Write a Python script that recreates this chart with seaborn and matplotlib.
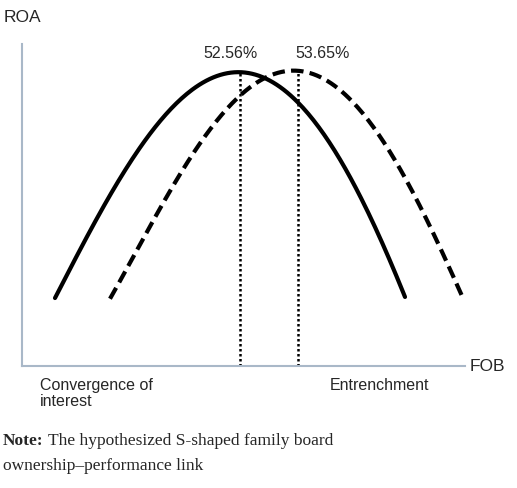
import numpy as np
import pandas as pd
import matplotlib
matplotlib.use("Agg")
import matplotlib.pyplot as plt
import seaborn as sns

# points (x position, height above the FOB axis)
solid_x = [33, 58, 88, 118, 148, 178, 218, 248, 278, 308, 338, 363, 383]
solid_y = [67, 117, 172, 219, 255, 279, 294, 287, 264, 222, 167, 117, 70]
dashed_x = [88, 113, 143, 173, 203, 238, 276, 308, 338, 373, 403, 425, 440]
dashed_y = [67, 112, 167, 217, 254, 283, 295, 285, 257, 207, 147, 102, 72]
peak_x = [218, 276]
peak_labels = ["52.56%", "53.65%"]

sns.set_theme(style="white")
plt.rcParams['font.family'] = ['Liberation Sans', 'DejaVu Sans']

fig = plt.figure(figsize=(5.17, 4.89), dpi=100)
ax = fig.add_axes([22 / 517, 122 / 489, 443 / 517, 322 / 489])


def smooth(xs, ys):
    c = np.polyfit(xs, ys, 4)
    gx = np.linspace(min(xs), max(xs), 200)
    return pd.DataFrame({"x": gx, "y": np.polyval(c, gx)})


s = smooth(solid_x, solid_y)
d = smooth(dashed_x, dashed_y)
sns.lineplot(data=s, x="x", y="y", ax=ax, color="black", lw=3)
sns.lineplot(data=d, x="x", y="y", ax=ax, color="black", lw=3, linestyle=(0, (3, 1.5)))

for px, df in zip(peak_x, [s, d]):
    top = np.interp(px, df["x"], df["y"])
    ax.plot([px, px], [0, top], color="black", lw=1.8, linestyle=(0, (1, 1)))

ax.set_xlim(0, 443)
ax.set_ylim(0, 322)
ax.set_xticks([])
ax.set_yticks([])
ax.set_xlabel("")
ax.set_ylabel("")
for sp in ["top", "right"]:
    ax.spines[sp].set_visible(False)
for sp in ["left", "bottom"]:
    ax.spines[sp].set_color("#a9b8c8")
    ax.spines[sp].set_linewidth(1.5)

fig.text(4 / 517, 1 - 17 / 489, "ROA", fontsize=12.5, va="center")
fig.text(470 / 517, 1 - 367 / 489, "FOB", fontsize=12.5, va="center")
fig.text(230 / 517, 1 - 53 / 489, peak_labels[0], fontsize=11.5, ha="center", va="center")
fig.text(323 / 517, 1 - 53 / 489, peak_labels[1], fontsize=11.5, ha="center", va="center")
fig.text(40 / 517, 1 - 378 / 489, "Convergence of\ninterest", fontsize=11.5, va="top", linespacing=1.1)
fig.text(330 / 517, 1 - 378 / 489, "Entrenchment", fontsize=11.5, va="top")

note = fig.text(3 / 517, 1 - 441 / 489, "Note:", fontsize=12.5, va="center",
                family="Liberation Serif", weight="bold")
fig.canvas.draw()
bb = note.get_window_extent()
fig.text((bb.x1 + 4) / 517, 1 - 441 / 489, "The hypothesized S-shaped family board",
         fontsize=12.5, va="center", family="Liberation Serif")
fig.text(3 / 517, 1 - 466 / 489, "ownership\u2013performance link", fontsize=12.5,
         va="center", family="Liberation Serif")

fig.savefig("out.png", dpi=100)
